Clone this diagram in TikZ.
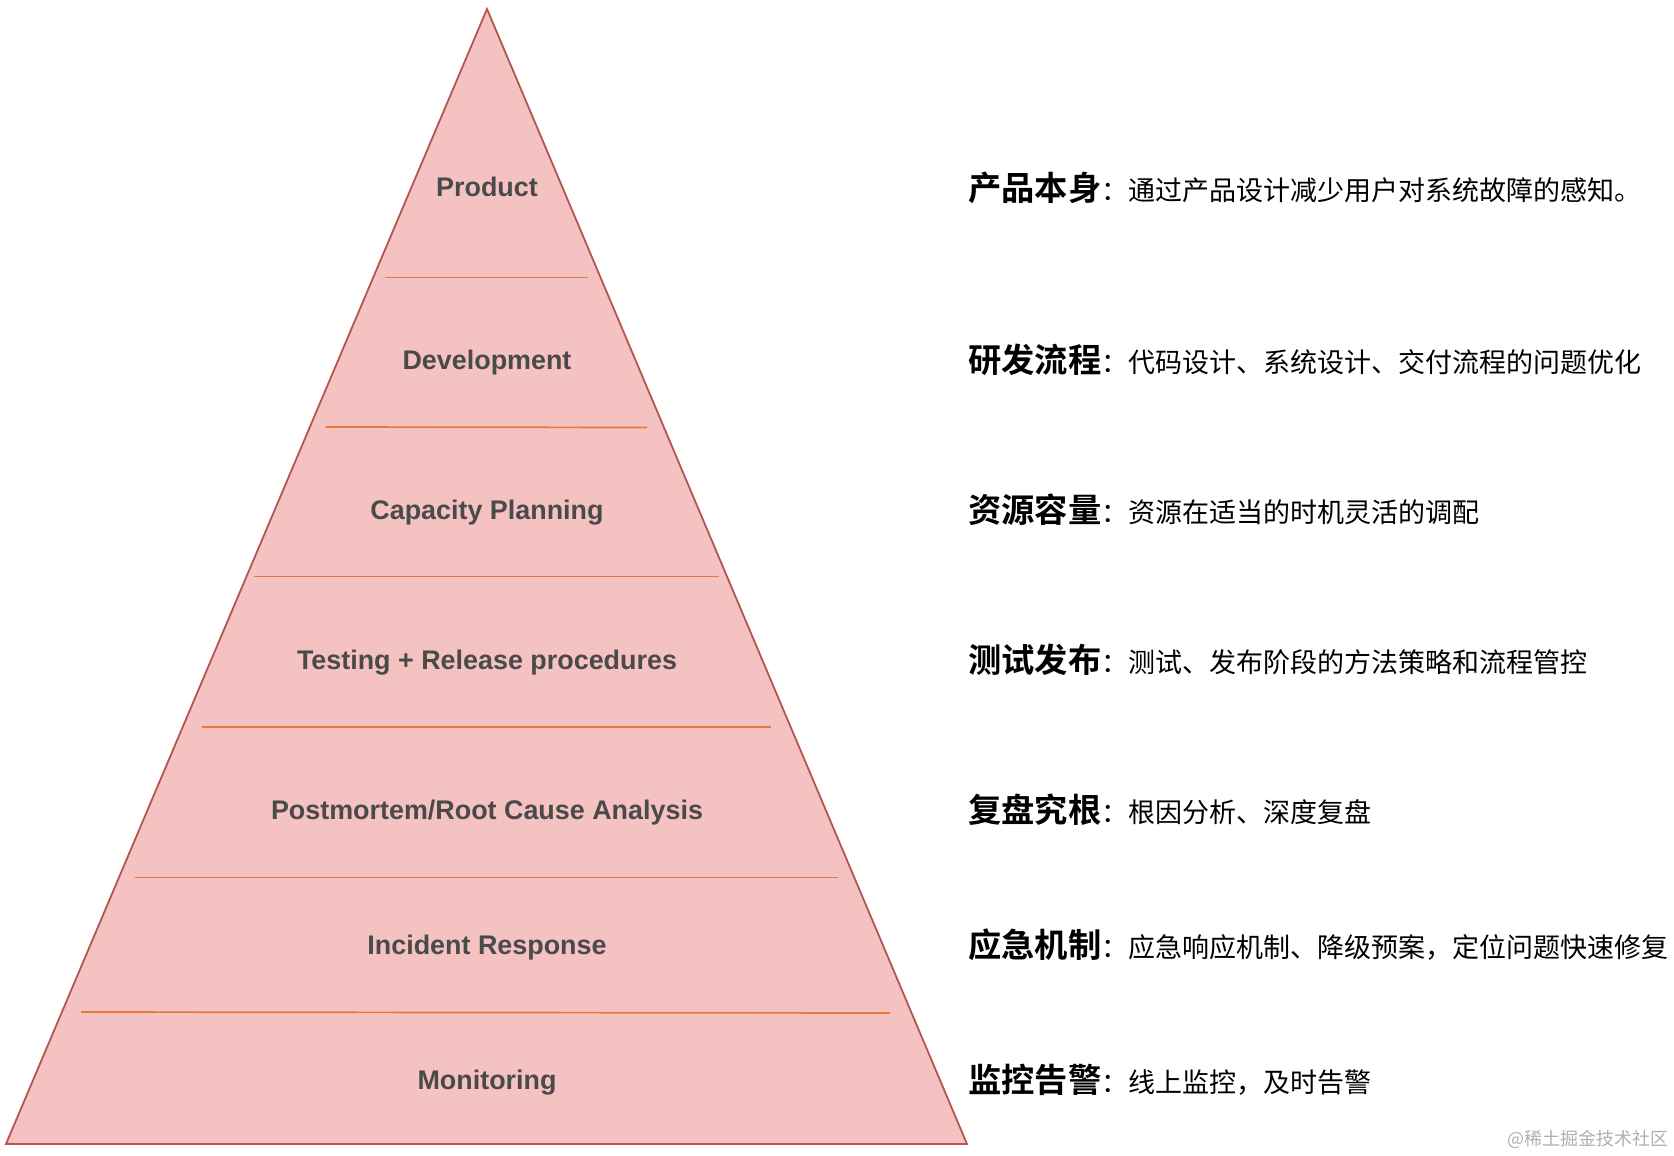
\documentclass[tikz,border=0pt]{standalone}
\usepackage{fontspec}
\setmainfont{Liberation Sans}
\newfontfamily\cjk{Noto Sans CJK SC}
\newfontfamily\cjkbold{Noto Sans CJK SC Bold}
\definecolor{pyrfill}{HTML}{F5C2C2}
\definecolor{pyrdraw}{HTML}{B85450}
\definecolor{sepline}{HTML}{E8773A}
\definecolor{lbltext}{HTML}{4A4A4A}
\definecolor{wmark}{HTML}{B0B0B0}
\begin{document}
\begin{tikzpicture}[x=1pt,y=-1pt,
  layer/.style={font=\fontsize{26.9}{30}\selectfont\bfseries, text=lbltext, anchor=center, inner sep=0pt},
  desc/.style={anchor=west, inner sep=0pt, text=black},
  sep/.style={draw=sepline, line width=1.7pt}]
\useasboundingbox (0,0) rectangle (1674,1156);
\fill[white] (0,0) rectangle (1674,1156);
% pyramid
\coordinate (apex) at (487,9);
\coordinate (bl) at (6,1144);
\coordinate (br) at (967,1144);
\draw[fill=pyrfill, draw=pyrdraw, line width=1.8pt, line join=miter] (apex) -- (br) -- (bl) -- cycle;
% separators
\draw[sep] (385,277.5) -- (587.5,277.5);
\draw[sep] (325.5,427) -- (647,427.5);
\draw[sep] (254,576.5) -- (718.5,576.5);
\draw[sep] (202,727) -- (771,727);
\draw[sep] (134.5,877.5) -- (838,877.5);
\draw[sep] (81,1012) -- (890,1013);
% labels
\node[layer] (l1) at (487,187) {Product};
\node[layer] (l2) at (487,363) {Development};
\node[layer] (l3) at (487,513) {Capacity Planning};
\node[layer] (l4) at (487,663) {Testing + Release procedures};
\node[layer] (l5) at (487,813) {Postmortem/Root Cause Analysis};
\node[layer] (l6) at (487,948) {Incident Response};
\node[layer] (l7) at (487,1083) {Monitoring};
% descriptions
\newcommand{\descline}[4]{%
  \node[desc] (#1) at (968,#2) {{\cjkbold\fontsize{33.3}{36}\selectfont #3}{\cjk\fontsize{27}{30}\selectfont ：#4}};}
\descline{d1}{188}{产品本身}{通过产品设计减少用户对系统故障的感知。}
\descline{d2}{360}{研发流程}{代码设计、系统设计、交付流程的问题优化}
\descline{d3}{510}{资源容量}{资源在适当的时机灵活的调配}
\descline{d4}{660}{测试发布}{测试、发布阶段的方法策略和流程管控}
\descline{d5}{810}{复盘究根}{根因分析、深度复盘}
\descline{d6}{945}{应急机制}{应急响应机制、降级预案，定位问题快速修复}
\descline{d7}{1080}{监控告警}{线上监控，及时告警}
% watermark
\node[anchor=east, inner sep=0pt, text=wmark, font=\cjk\fontsize{18}{20}\selectfont] (wm) at (1669,1139) {@稀土掘金技术社区};
\end{tikzpicture}
\end{document}
